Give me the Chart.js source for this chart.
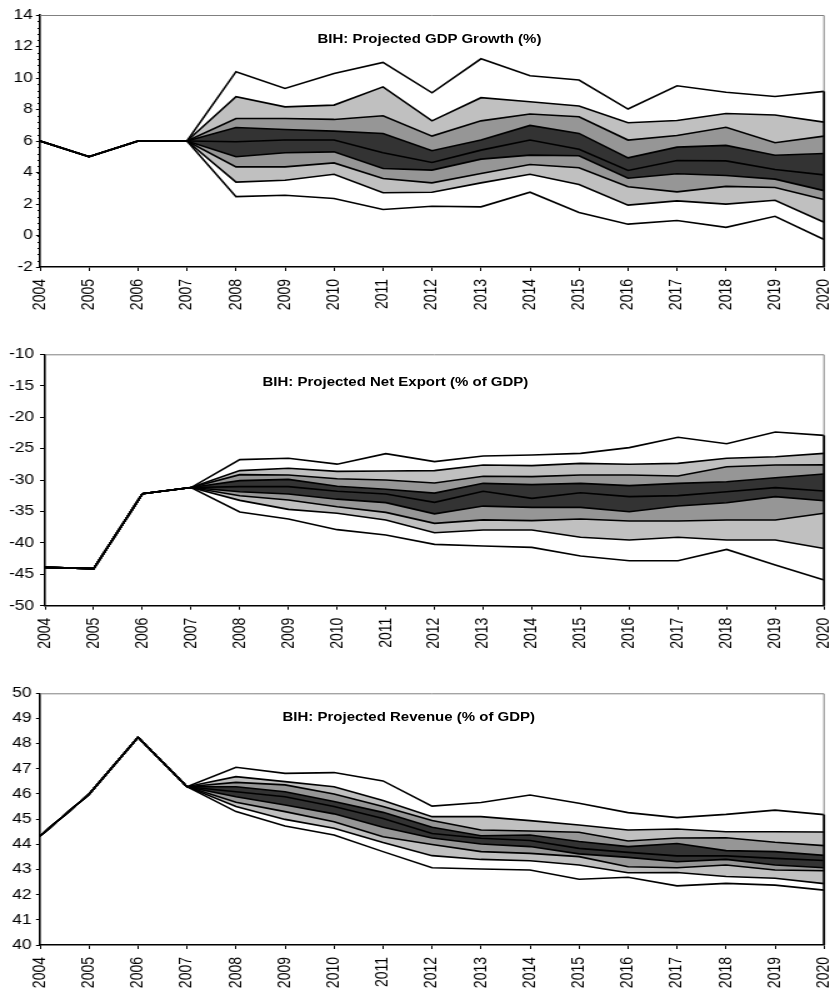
<!DOCTYPE html>
<html lang="en">
<head>
    <meta charset="UTF-8">
    <title>BIH fan charts</title>
    <script src="https://cdn.jsdelivr.net/npm/chart.js"></script>
    <style>
        body { margin: 0; background: #fff; }
        .panel { position: relative; width: 664px; transform: scaleX(1.25); transform-origin: 0 0; }
        .panel canvas { display: block; }
        .ttl { position: absolute; font: bold 12px "Liberation Sans", Arial, sans-serif; line-height: 14px; white-space: nowrap; color: #000; }
    </style>
</head>
<body>
    <div class="panel" style="height:320px">
        <canvas id="c1" width="664" height="320"></canvas>
        <div class="ttl" style="left:254px;top:32px">BIH: Projected GDP Growth (%)</div>
    </div>
    <div class="panel" style="height:330px">
        <canvas id="c2" width="664" height="330"></canvas>
        <div class="ttl" style="left:210px;top:55px">BIH: Projected Net Export (% of GDP)</div>
    </div>
    <div class="panel" style="height:341px">
        <canvas id="c3" width="664" height="341"></canvas>
        <div class="ttl" style="left:226px;top:60px">BIH: Projected Revenue (% of GDP)</div>
    </div>

    <script>
        // years on the x axis
        var years = ['2004','2005','2006','2007','2008','2009','2010','2011','2012','2013','2014','2015','2016','2017','2018','2019','2020']

        // GDP growth: history 2004-2007, then fan lines 2008-2020
        var gdpHist = [6.0, 5.0, 6.0, 6.0]
        var gdpMax = [10.40, 9.34, 10.29, 10.99, 9.06, 11.22, 10.14, 9.87, 8.03, 9.51, 9.10, 8.83, 9.15]
        var gdpHi3 = [8.81, 8.17, 8.28, 9.44, 7.28, 8.75, 8.49, 8.22, 7.16, 7.30, 7.75, 7.65, 7.20]
        var gdpHi2 = [7.43, 7.43, 7.37, 7.60, 6.31, 7.28, 7.71, 7.54, 6.06, 6.35, 6.87, 5.89, 6.31]
        var gdpHi1 = [6.86, 6.73, 6.63, 6.48, 5.38, 6.06, 6.99, 6.48, 4.93, 5.61, 5.72, 5.10, 5.21]
        var gdpMid = [5.95, 6.06, 6.06, 5.25, 4.64, 5.42, 6.06, 5.48, 4.13, 4.76, 4.74, 4.19, 3.85]
        var gdpLo1 = [5.00, 5.25, 5.31, 4.25, 4.15, 4.85, 5.10, 5.06, 3.64, 3.92, 3.81, 3.58, 2.85]
        var gdpLo2 = [4.36, 4.36, 4.61, 3.62, 3.34, 3.94, 4.51, 4.30, 3.09, 2.77, 3.12, 3.05, 2.29]
        var gdpLo3 = [3.39, 3.51, 3.89, 2.71, 2.75, 3.34, 3.89, 3.24, 1.93, 2.20, 1.99, 2.24, 0.84]
        var gdpMin = [2.47, 2.56, 2.35, 1.65, 1.86, 1.82, 2.75, 1.46, 0.72, 0.95, 0.52, 1.22, -0.25]

        // net export (% of GDP)
        var nxHist = [-43.9, -44.1, -32.2, -31.2]
        var nxMax = [-26.76, -26.55, -27.48, -25.80, -27.08, -26.18, -26.02, -25.76, -24.85, -23.21, -24.22, -22.36, -22.90]
        var nxHi3 = [-28.51, -28.14, -28.63, -28.57, -28.51, -27.61, -27.72, -27.35, -27.50, -27.35, -26.55, -26.29, -25.76]
        var nxHi2 = [-29.15, -29.20, -29.80, -30.00, -30.48, -29.40, -29.47, -29.20, -29.20, -29.36, -27.88, -27.61, -27.60]
        var nxHi1 = [-30.10, -29.90, -31.00, -31.48, -32.08, -30.53, -30.74, -30.53, -30.90, -30.53, -30.27, -29.63, -29.05]
        var nxMid = [-31.06, -31.06, -31.80, -32.23, -33.56, -31.80, -32.92, -32.02, -32.65, -32.49, -31.86, -31.22, -31.75]
        var nxLo1 = [-31.86, -32.23, -33.05, -33.60, -35.38, -34.15, -34.35, -34.35, -35.04, -34.14, -33.61, -32.65, -33.30]
        var nxLo2 = [-32.50, -33.18, -34.25, -35.15, -36.90, -36.35, -36.47, -36.21, -36.53, -36.53, -36.37, -36.37, -35.30]
        var nxLo3 = [-33.24, -34.67, -35.30, -36.37, -38.39, -37.95, -37.96, -39.12, -39.55, -39.12, -39.55, -39.55, -40.90]
        var nxMin = [-35.09, -36.20, -37.90, -38.75, -40.24, -40.50, -40.72, -42.10, -42.84, -42.84, -41.04, -43.53, -45.92]

        // revenue (% of GDP)
        var revHist = [44.33, 45.99, 48.25, 46.29]
        var revMax = [47.06, 46.82, 46.85, 46.52, 45.52, 45.66, 45.96, 45.63, 45.26, 45.06, 45.19, 45.36, 45.18]
        var revHi3 = [46.69, 46.49, 46.29, 45.74, 45.10, 45.10, 44.94, 44.77, 44.57, 44.61, 44.50, 44.50, 44.49]
        var revHi2 = [46.46, 46.36, 46.00, 45.50, 44.95, 44.57, 44.53, 44.48, 44.13, 44.25, 44.26, 44.08, 43.95]
        var revHi1 = [46.29, 46.09, 45.70, 45.27, 44.68, 44.34, 44.37, 44.11, 43.91, 44.03, 43.75, 43.71, 43.56]
        var revMid = [46.09, 45.89, 45.50, 45.03, 44.43, 44.24, 44.15, 43.84, 43.68, 43.54, 43.54, 43.44, 43.36]
        var revLo1 = [45.89, 45.56, 45.21, 44.68, 44.25, 44.01, 43.91, 43.62, 43.48, 43.31, 43.40, 43.18, 43.07]
        var revLo2 = [45.67, 45.30, 44.90, 44.30, 43.99, 43.71, 43.64, 43.51, 43.11, 43.07, 43.18, 42.98, 42.95]
        var revLo3 = [45.50, 44.99, 44.64, 44.07, 43.55, 43.40, 43.35, 43.18, 42.87, 42.88, 42.72, 42.65, 42.44]
        var revMin = [45.30, 44.73, 44.37, 43.71, 43.07, 43.02, 42.98, 42.61, 42.69, 42.35, 42.45, 42.38, 42.18]

        var LIGHT = '#c0c0c0', MEDIUM = '#969696', DARK = '#333333'
        var bandFill = [null, LIGHT, MEDIUM, DARK, DARK, MEDIUM, LIGHT, null, null]
        var FONT = '"Liberation Sans", Arial, sans-serif'

        // gray frame on top/right, black drop at the right end of the fan
        var framePlugin = {
            id: 'frame',
            afterDatasetsDraw(chart) {
                var a = chart.chartArea, ctx = chart.ctx
                var xs = chart.scales.x, ys = chart.scales.y
                ctx.save()
                ctx.strokeStyle = '#808080'
                ctx.lineWidth = 1
                ctx.beginPath()
                ctx.moveTo(a.left, a.top + 0.5)
                ctx.lineTo(a.right, a.top + 0.5)
                ctx.lineTo(a.right, a.bottom)
                ctx.stroke()
                var last = years.length - 1
                var top = chart.data.datasets[0].data[last]
                ctx.strokeStyle = '#000'
                ctx.lineWidth = 1.8
                ctx.beginPath()
                ctx.moveTo(xs.getPixelForValue(last), ys.getPixelForValue(top))
                ctx.lineTo(xs.getPixelForValue(last), a.bottom)
                ctx.stroke()
                // minor ticks on the y axis
                var minor = chart.options.plugins.frame.minor
                if (minor) {
                    ctx.lineWidth = 1
                    ctx.beginPath()
                    for (var v = ys.min; v <= ys.max + 1e-9; v += minor) {
                        var py = Math.round(ys.getPixelForValue(v)) + 0.5
                        ctx.moveTo(a.left - 2, py)
                        ctx.lineTo(a.left, py)
                    }
                    ctx.stroke()
                }
                ctx.restore()
            }
        }

        function fanChart(id, hist, lines, box) {
            var datasets = lines.map(function (proj, i) {
                return {
                    data: hist.concat(proj),
                    borderColor: '#000',
                    borderWidth: 1.6,
                    pointRadius: 0,
                    tension: 0,
                    fill: bandFill[i] ? '+1' : false,
                    backgroundColor: bandFill[i] || 'rgba(0,0,0,0)'
                }
            })
            return new Chart(document.getElementById(id), {
                type: 'line',
                data: { labels: years, datasets: datasets },
                options: {
                    responsive: false,
                    devicePixelRatio: 1,
                    animation: false,
                    layout: { padding: { left: 0, right: 4.8, top: box.top, bottom: 0 } },
                    plugins: {
                        legend: { display: false },
                        tooltip: { enabled: false },
                        filler: { drawTime: 'beforeDatasetsDraw' },
                        frame: { minor: box.minor }
                    },
                    scales: {
                        x: {
                            offset: false,
                            grid: { drawOnChartArea: false, tickLength: 4, tickColor: '#000', offset: false },
                            border: { color: '#000', width: 1.6 },
                            ticks: { color: '#000', font: { family: FONT, size: 14 }, maxRotation: 90, minRotation: 90, padding: 8, autoSkip: false },
                            afterFit: function (s) { s.height = box.xh; s.paddingLeft = 0; s.paddingRight = 0 }
                        },
                        y: {
                            min: box.min, max: box.max,
                            grid: { drawOnChartArea: false, tickLength: box.tick, tickColor: '#000' },
                            border: { color: '#000', width: 1.6 },
                            ticks: { stepSize: box.step, color: '#000', font: { family: FONT, size: 14 }, padding: box.pad },
                            afterFit: function (s) { s.width = box.yw }
                        }
                    }
                },
                plugins: [framePlugin]
            })
        }

        fanChart('c1', gdpHist, [gdpMax, gdpHi3, gdpHi2, gdpHi1, gdpMid, gdpLo1, gdpLo2, gdpLo3, gdpMin],
            { top: 15, xh: 53, yw: 32, min: -2, max: 14, step: 2, tick: 3.2, pad: 2.4, minor: 0.4 })
        fanChart('c2', nxHist, [nxMax, nxHi3, nxHi2, nxHi1, nxMid, nxLo1, nxLo2, nxLo3, nxMin],
            { top: 34.3, xh: 44.3, yw: 36, min: -50, max: -10, step: 5, tick: 4, pad: 4.6 })
        fanChart('c3', revHist, [revMax, revHi3, revHi2, revHi1, revMid, revLo1, revLo2, revLo3, revMin],
            { top: 43.3, xh: 46, yw: 32, min: 40, max: 50, step: 1, tick: 3.2, pad: 3.4 })
    </script>
</body>
</html>
